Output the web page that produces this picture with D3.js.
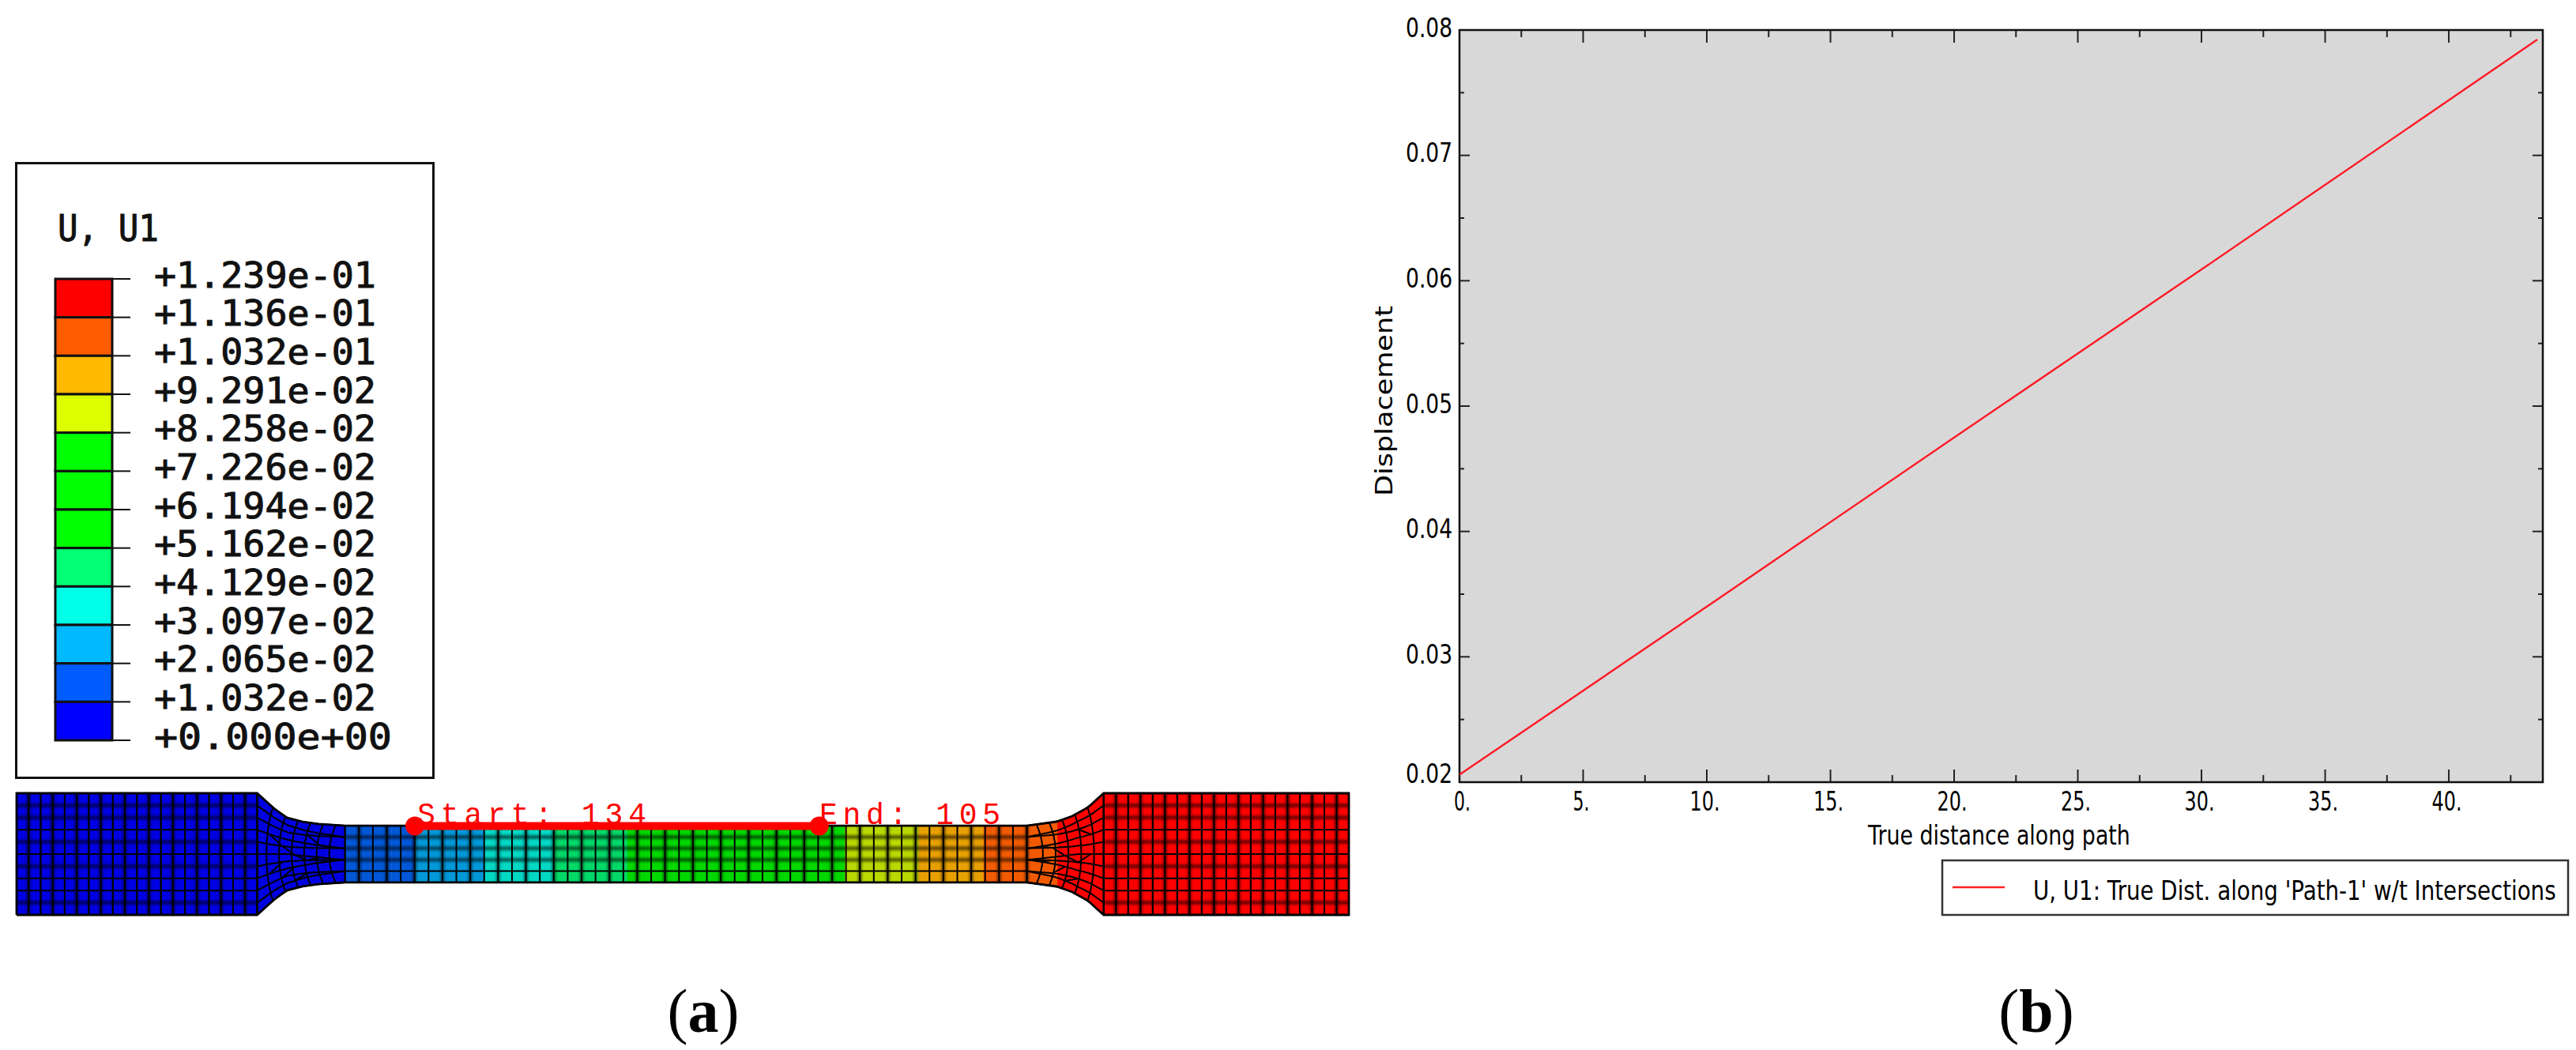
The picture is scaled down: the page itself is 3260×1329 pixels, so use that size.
<!DOCTYPE html>
<html><head><meta charset="utf-8">
<script src="https://cdn.jsdelivr.net/npm/d3@7"></script>
<style>html,body{margin:0;padding:0;background:#fff}svg{display:block}</style>
</head><body><svg id="c" width="3260" height="1329"></svg>
<script>
// ---- panel (a): contour legend
const legendTitle = "U, U1";
const contourLabels = ["+1.239e-01","+1.136e-01","+1.032e-01","+9.291e-02","+8.258e-02","+7.226e-02","+6.194e-02","+5.162e-02","+4.129e-02","+3.097e-02","+2.065e-02","+1.032e-02","+0.000e+00"];
const contourColors = ["#ff0000","#ff5c00","#ffb900","#dcff00","#00ff00","#00ff00","#00ff00","#00ff74","#00ffe6","#00b9ff","#005cff","#0000ff"];
// ---- panel (a): specimen (mm along the bar, mm half-height about the axis)
const barLength = 144, barHeight = 13.15;
const flareLeftX = [26.0,27.8,29.2,30.9,32.6,35.5];
const flareLeftH = [6.575,4.95,3.93,3.5,3.25,3.07];
const flareRightX = [109.2,112.4,114.1,115.8,117.5];
const flareRightH = [3.07,3.5,4.1,5.04,6.575];
const neckBandEnds = [35.7,43.2,50.6,58.25,66.1,89.3,97.3,104.6,112.5];
const neckBandColors = ["#0000e0","#0058d8","#0098d8","#00d8c4","#00d868","#00d800","#b8d800","#e8a000","#f25a00","#ff0000"];
const blockColumns = 20, blockRows = 10, neckRows = 5, flareColumns = 7;
const sharpBlockRows = [0,2,3,5,7,10];
const pathStart = 43.05, pathEnd = 86.75, pathH = 9.6;
const startLabel = "Start: 134", endLabel = "End: 105";
// ---- panel (b): curve
const distance = [0, 10, 20, 30, 43.58];
const displacement = [0.0206, 0.0340, 0.0475, 0.0609, 0.07924];
const xMajor = [0,5,10,15,20,25,30,35,40];
const xMinor = [2.5,7.5,12.5,17.5,22.5,27.5,32.5,37.5,42.5];
const yMajor = [0.02,0.03,0.04,0.05,0.06,0.07,0.08];
const yMinor = [0.025,0.035,0.045,0.055,0.065,0.075];
const xTitle = "True distance along path", yTitle = "Displacement";
const seriesName = "U, U1: True Dist. along 'Path-1' w/t Intersections";
const captions = ["a","b"];

const svg = d3.select("#c");
const defs = svg.append("defs");
defs.append("filter").attr("id","b1").attr("x","-5%").attr("y","-5%").attr("width","110%").attr("height","110%").append("feGaussianBlur").attr("stdDeviation",0.6);
defs.append("filter").attr("id","b2").attr("x","-5%").attr("y","-5%").attr("width","110%").attr("height","110%").append("feGaussianBlur").attr("stdDeviation",1.6);
const mono = "'DejaVu Sans Mono'", sans = "'DejaVu Sans'";
// stretches one text to a measured width without changing its font size
function fit(t, width, x, y, rot){
  const n=t.node().getComputedTextLength(), k=width/n;
  t.attr("transform",`translate(${x},${y})${rot?` rotate(${rot})`:""} scale(${k},1)`);
  return t;
}

// ---------- legend
const A = svg.append("g");
A.append("rect").attr("x",20.5).attr("y",206.5).attr("width",528).attr("height",778).attr("fill","#fff").attr("stroke","#111").attr("stroke-width",3);
fit(A.append("text").text(legendTitle).attr("font-family",mono).attr("font-size",46).attr("fill","#111").attr("stroke","#111").attr("stroke-width",1),128,73,305);
const cY = d3.scaleBand().domain(d3.range(contourColors.length)).range([353,937]);
A.selectAll("rect.c").data(contourColors).join("rect").attr("class","c").attr("x",70).attr("width",72)
 .attr("y",(d,i)=>cY(i)).attr("height",cY.bandwidth()).attr("fill",d=>d).attr("stroke","#111").attr("stroke-width",3);
const lY = i => cY.range()[0] + i*cY.step();
A.selectAll("line.t").data(contourLabels).join("line").attr("class","t").attr("x1",142).attr("x2",165)
 .attr("y1",(d,i)=>lY(i)).attr("y2",(d,i)=>lY(i)).attr("stroke","#111").attr("stroke-width",2);
A.selectAll("text.l").data(contourLabels).join("text").attr("class","l").text(d=>d)
 .attr("font-family",mono).attr("font-size",44).attr("fill","#111").attr("stroke","#111").attr("stroke-width",1)
 .each(function(d,i){fit(d3.select(this),i===contourLabels.length-1?301:281,195,lY(i)+10.5);});

// ---------- specimen
const X = d3.scaleLinear().domain([0,barLength]).range([21,1707]);
const Y = d3.scaleLinear().domain([0,barHeight]).range([1158,1004]);
const mid = barHeight/2, neckH = flareLeftH[flareLeftH.length-1];
const halfAt = d3.scaleLinear().domain(flareLeftX.concat(flareRightX)).range(flareLeftH.concat(flareRightH));
const colourAt = d3.scaleThreshold().domain(neckBandEnds).range(neckBandColors);
const M = svg.append("g");
const quad = p => "M"+p.map(q=>X(q[0])+","+Y(q[1])).join("L")+"Z";
const sharp=[], soft=[];
const yAt=(x,v)=> mid + halfAt(x)*v;
const rowsV = r => d3.range(r+1).map(i=>-1+2*i/r);
const spanA=flareLeftX[0], spanB=flareRightX[flareRightX.length-1];
// blocks
[[0,spanA,"#0000e4"],[spanB,barLength,"#ff0000"]].forEach(([a,b,c])=>{
  M.append("path").attr("d",quad([[a,0],[b,0],[b,barHeight],[a,barHeight]])).attr("fill",c);
  const cw=(b-a)/blockColumns;
  d3.range(blockColumns+1).forEach(i=>{const x=a+i*cw;(i%2?soft:sharp).push([[x,0],[x,barHeight]]);
    sharp.push([[x,0],[x,barHeight]]);});
  d3.range(blockRows+1).forEach(i=>{const y=barHeight*i/blockRows;(sharpBlockRows.includes(i)?sharp:soft).push([[a,y],[b,y]]);});
});
// variable-width part, one strip of colour per half millimetre
d3.range(spanA,spanB-0.001,0.5).forEach(x=>{const x2=x+0.5,c=colourAt(x+.25);
  M.append("path").attr("d",quad([[x,mid-halfAt(x)],[x2+.05,mid-halfAt(x2)],[x2+.05,mid+halfAt(x2)],[x,mid+halfAt(x)]])).attr("fill",c);});
// neck grid
const nLeft=flareLeftX[flareLeftX.length-1], nRight=flareRightX[0];
const nCols=Math.round((nRight-nLeft)/1.5), ncw=(nRight-nLeft)/nCols;
d3.range(nCols+1).forEach(i=>{const x=nLeft+i*ncw;const e=[[x,mid-neckH],[x,mid+neckH]];
  if(i%2===0) sharp.push(e); else {soft.push(e);sharp.push(e);}});
rowsV(neckRows).forEach((v,i)=>{const y=mid+neckH*v;((i===0||i===1||i===neckRows)?sharp:soft).push([[nLeft,y],[nRight,y]]);});
// flare grids: ten rows at the block merge into the five rows of the neck
[[spanA,nLeft,1,flareColumns],[nRight,spanB,-1,6]].forEach(([a,b,dir,cols])=>{
  const cw=(b-a)/cols;
  const atBlock=k=>dir>0?k/cols:1-k/cols;          // 0 at the block, 1 at the neck
  const vOf=(j,s)=>{const v=-1+2*j/blockRows;
    if(j%2===0) return v;
    const to=v+(j<blockRows/2?1:-1)*2/blockRows;
    const w=Math.max(0,(s-0.35)/0.65);
    return v+(to-v)*w;};
  d3.range(blockRows+1).forEach(j=>{
    sharp.push(d3.range(0,cols+.01,.5).map(k=>{const x=a+k*cw;return [x,yAt(x,vOf(j,atBlock(k)))];}));
  });
  d3.range(cols+1).forEach(k=>{
    const bend=(k===0||k===cols)?0:dir*0.7;
    const x0=a+k*cw, pts=d3.range(11).map(i=>{const v=-1+i/5,x=x0+bend*(v*v-.5);return [x,yAt(x,v)];});
    sharp.push(pts);
  });
  // skewed cells
  d3.range(1,cols-1).forEach(k=>d3.range(1,blockRows-1).forEach(j=>{
    if((k+j)%4===0){const x1=a+k*cw,x2=a+(k+1)*cw,s1=atBlock(k),s2=atBlock(k+1),up=j<blockRows/2?1:-1;
      sharp.push([[x1,yAt(x1,vOf(j,s1))],[x2,yAt(x2,vOf(j+up,s2))]]);}
  }));
});
const ln=d3.line().x(d=>X(d[0])).y(d=>Y(d[1]));
M.append("g").attr("filter","url(#b2)").selectAll("path").data(soft).join("path").attr("d",ln).attr("fill","none").attr("stroke","#000").attr("stroke-opacity",.55).attr("stroke-width",5);
M.append("g").attr("filter","url(#b1)").selectAll("path").data(sharp).join("path").attr("d",ln).attr("fill","none").attr("stroke","#000").attr("stroke-width",2);
// outline
const outline=[[0,0],[0,barHeight],[spanA,barHeight]].concat(
  flareLeftX.map((x,i)=>[x,mid+flareLeftH[i]]),flareRightX.map((x,i)=>[x,mid+flareRightH[i]]),
  [[barLength,barHeight],[barLength,0],[spanB,0]],
  flareRightX.slice().reverse().map((x,i)=>[x,mid-flareRightH[flareRightH.length-1-i]]),
  flareLeftX.slice().reverse().map((x,i)=>[x,mid-flareLeftH[flareLeftH.length-1-i]]),[[0,0]]);
M.append("path").attr("d",ln(outline)).attr("fill","none").attr("stroke","#000").attr("stroke-width",2.8).attr("filter","url(#b1)");
// path
M.append("line").attr("x1",X(pathStart)).attr("x2",X(pathEnd)).attr("y1",Y(pathH)).attr("y2",Y(pathH)).attr("stroke","#ff0000").attr("stroke-width",10);
M.selectAll("circle").data([pathStart,pathEnd]).join("circle").attr("cx",d=>X(d)).attr("cy",Y(pathH)).attr("r",12).attr("fill","#ff0000");
const lab = "'Liberation Mono'";
M.append("text").text(startLabel).attr("x",528).attr("y",1043).attr("font-family",lab).attr("font-size",38).attr("fill","#ff0000").attr("textLength",290);
M.append("text").text(endLabel).attr("x",1037).attr("y",1043).attr("font-family",lab).attr("font-size",38).attr("fill","#ff0000").attr("textLength",229);

// ---------- panel b
const x = d3.scaleLinear().domain([0,43.8]).range([1847,3218]);
const y = d3.scaleLinear().domain([0.02,0.08]).range([990,38]);
const B = svg.append("g");
B.append("rect").attr("x",1847).attr("y",38).attr("width",1371).attr("height",952).attr("fill","#d8d8d8");
const tick=(g,vals,fn)=>g.selectAll(null).data(vals).join("line").each(fn).attr("stroke","#222").attr("stroke-width",2);
[[xMajor,16],[xMinor,9]].forEach(([v,len])=>{
  tick(B,v,function(d){d3.select(this).attr("x1",x(d)).attr("x2",x(d)).attr("y1",38).attr("y2",38+len);});
  tick(B,v,function(d){d3.select(this).attr("x1",x(d)).attr("x2",x(d)).attr("y1",990).attr("y2",990-len);});
});
[[yMajor,13],[yMinor,6]].forEach(([v,len])=>{
  tick(B,v,function(d){d3.select(this).attr("x1",1847).attr("x2",1847+len).attr("y1",y(d)).attr("y2",y(d));});
  tick(B,v,function(d){d3.select(this).attr("x1",3218).attr("x2",3218-len).attr("y1",y(d)).attr("y2",y(d));});
});
B.append("rect").attr("x",1847).attr("y",38).attr("width",1371).attr("height",952).attr("fill","none").attr("stroke","#111").attr("stroke-width",2.5);
const xAxis=d3.axisBottom(x).tickValues(xMajor).tickSize(0).tickPadding(0).tickFormat(d=>d+".");
const gx=B.append("g").attr("transform","translate(0,990)").call(xAxis);
gx.select(".domain").remove();
gx.selectAll("text").attr("dy",0).attr("font-family",sans).attr("font-size",33).attr("fill","#000")
  .each(function(d){const t=d3.select(this);t.attr("x",0).attr("y",0).attr("text-anchor","middle");fit(t,d<10?21:38,d===0?3:-3,36);});
const yAxis=d3.axisLeft(y).tickValues(yMajor).tickSize(0).tickPadding(0).tickFormat(d3.format(".2f"));
const gy=B.append("g").attr("transform","translate(1847,0)").call(yAxis);
gy.select(".domain").remove();
gy.selectAll("text").attr("dy",0).attr("font-family",sans).attr("font-size",33).attr("fill","#000")
  .each(function(d){const t=d3.select(this);t.attr("x",0).attr("y",0).attr("text-anchor","end");fit(t,59,-9,d===0.02?0:8);});
B.append("path").datum(distance.map((d,i)=>[d,displacement[i]])).attr("d",d3.line().x(d=>x(d[0])).y(d=>y(d[1]))).attr("fill","none").attr("stroke","#ff1a26").attr("stroke-width",2.4);
fit(B.append("text").text(xTitle).attr("font-family",sans).attr("font-size",33).attr("fill","#000"),332,2364,1069);
fit(B.append("text").text(yTitle).attr("font-family",sans).attr("font-size",30).attr("fill","#000"),241,1762,628,-90);
B.append("rect").attr("x",2458).attr("y",1089).attr("width",792).attr("height",69).attr("fill","#fff").attr("stroke","#333").attr("stroke-width",2.5);
B.append("line").attr("x1",2471).attr("x2",2537).attr("y1",1123).attr("y2",1123).attr("stroke","#ff2020").attr("stroke-width",2.5);
fit(B.append("text").text(seriesName).attr("font-family",sans).attr("font-size",33).attr("fill","#000"),662,2573,1139);

// ---------- captions
const capX = d3.scaleOrdinal().domain(captions).range([890,2577]);
captions.forEach(c=>{
  const t=svg.append("text").attr("x",capX(c)).attr("y",1306).attr("text-anchor","middle").attr("font-family","'Liberation Serif'").attr("font-size",78).attr("fill","#000");
  t.append("tspan").text("(");t.append("tspan").text(c).attr("font-weight","bold");t.append("tspan").text(")");
});
</script></body></html>
